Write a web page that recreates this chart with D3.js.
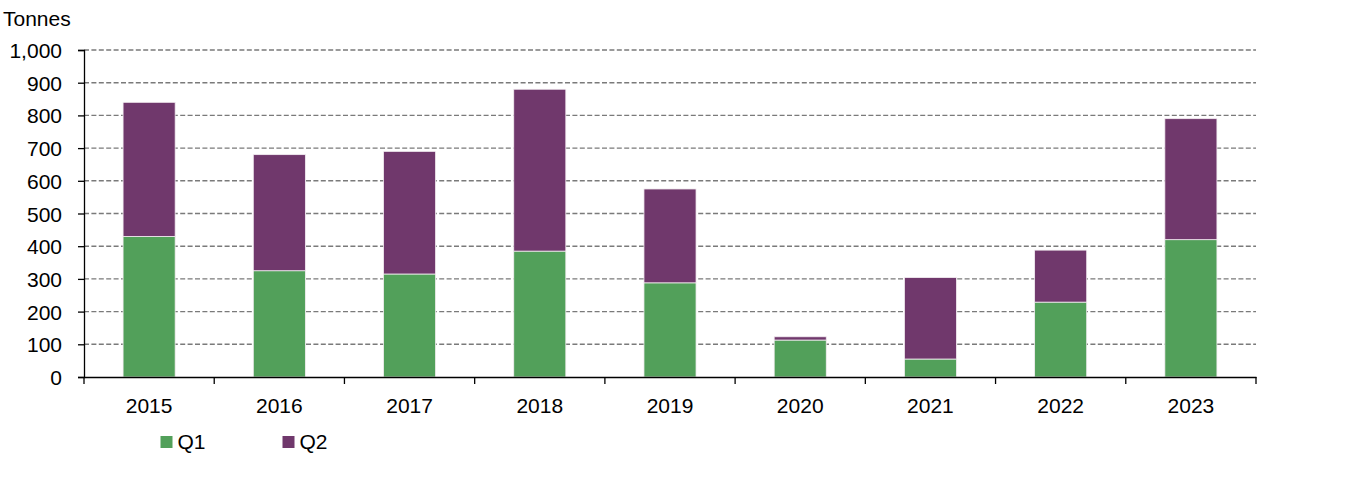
<!DOCTYPE html>
<html><head><meta charset="utf-8">
<script src="https://cdn.jsdelivr.net/npm/d3@7"></script>
<style>body{margin:0;background:#fff}svg{display:block}text{font-family:"Liberation Sans",Arial,sans-serif;fill:#000}</style>
</head><body><svg id="c" width="1360" height="488"></svg>
<script>
const years = ["2015","2016","2017","2018","2019","2020","2021","2022","2023"];
const q1 = [430, 325, 315, 385, 288, 113, 55, 229, 420];
const q2 = [410, 355, 375, 495, 287, 10, 249, 159, 370];
const yTicks = [0,100,200,300,400,500,600,700,800,900,1000];
const seriesNames = ["Q1","Q2"];
const colors = ["#52A05A","#70386C"];

const svg = d3.select("#c");
const L = 84, R = 1256, T = 50, B = 377;
const x = d3.scaleBand().domain(years).range([L, R]).paddingInner(0.6).paddingOuter(0.3);
const y = d3.scaleLinear().domain([0, 1000]).range([B, T]);
const fs = 21;

// grid
svg.append("g").selectAll("line").data(yTicks.filter(d=>d>0)).join("line")
  .attr("x1", L).attr("x2", R).attr("y1", d=>y(d)).attr("y2", d=>y(d))
  .attr("stroke", "#7a7a7a").attr("stroke-width", 1.4).attr("stroke-dasharray", "5,2.4");

// bars
const rows = years.map((yr,i)=>({year:yr, Q1:q1[i], Q2:q2[i]}));
const stack = d3.stack().keys(seriesNames)(rows);
svg.append("g").selectAll("g").data(stack).join("g").attr("fill", (d,i)=>colors[i])
  .selectAll("rect").data(d=>d).join("rect")
  .attr("x", d=>x(d.data.year)).attr("width", x.bandwidth())
  .attr("y", d=>y(d[1])).attr("height", d=>y(d[0])-y(d[1]))
  .attr("stroke", "#f4eef2").attr("stroke-width", 0.8);

// y axis
const ya = svg.append("g").attr("transform", `translate(${L},0)`)
  .call(d3.axisLeft(y).tickValues(yTicks).tickFormat(d3.format(",")).tickSize(6).tickPadding(16));
ya.select(".domain").attr("stroke","#000").attr("stroke-width",1.3);
ya.selectAll(".tick line").attr("stroke","#000").attr("stroke-width",1.3);
ya.selectAll("text").style("font-size", fs+"px").attr("dy","0.36em");

// x axis
const xa = svg.append("g").attr("transform", `translate(0,${B})`)
  .call(d3.axisBottom(x).tickSize(0).tickPadding(21));
xa.select(".domain").attr("stroke","#000").attr("stroke-width",1.3);
xa.selectAll("text").style("font-size", fs+"px");
const bounds = d3.range(years.length+1).map(i=>L + i*(R-L)/years.length);
xa.append("g").selectAll("line").data(bounds).join("line")
  .attr("x1", d=>d).attr("x2", d=>d).attr("y1", 0).attr("y2", 7)
  .attr("stroke","#000").attr("stroke-width",1.3);

// unit label
svg.append("text").attr("x", 3).attr("y", 26).style("font-size", fs+"px").text("Tonnes");

// legend
const legX = [160.5, 282.5];
const lg = svg.append("g").selectAll("g").data(seriesNames).join("g")
  .attr("transform", (d,i)=>`translate(${legX[i]},436)`);
lg.append("rect").attr("width", 12).attr("height", 12).attr("fill", (d,i)=>colors[i]);
lg.append("text").attr("x", 17).attr("y", 13).style("font-size", fs+"px").text(d=>d);
</script></body></html>
